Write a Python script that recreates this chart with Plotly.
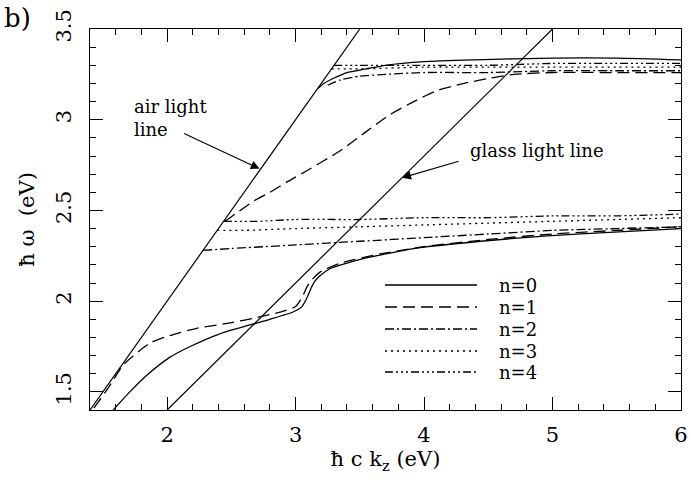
import plotly.graph_objects as go

# light lines
air_k = [1.4, 3.5]
air_w = [1.4, 3.5]
glass_k = [2.0, 5.0]
glass_w = [1.4, 3.5]

# n=0 (solid)
n0_lo_k = [1.58, 1.71, 1.84, 2.02, 2.18, 2.41, 2.65, 2.80, 2.98, 3.05, 3.09, 3.12, 3.15, 3.19, 3.27, 3.40, 3.56, 3.70, 3.92, 4.44, 4.96, 5.48, 6.0]
n0_lo_w = [1.40, 1.50, 1.59, 1.69, 1.75, 1.82, 1.87, 1.90, 1.94, 1.97, 2.02, 2.07, 2.11, 2.14, 2.18, 2.21, 2.24, 2.26, 2.29, 2.33, 2.36, 2.38, 2.40]
n0_up_k = [3.17, 3.22, 3.30, 3.40, 3.55, 3.70, 4.0, 4.4, 5.0, 5.5, 6.0]
n0_up_w = [3.17, 3.20, 3.23, 3.26, 3.28, 3.30, 3.32, 3.33, 3.34, 3.34, 3.33]

# n=1 (dashed)
n1_lo_k = [1.43, 1.55, 1.66, 1.74, 1.87, 2.02, 2.23, 2.49, 2.70, 2.88, 3.00, 3.05, 3.09, 3.13, 3.19, 3.35, 3.66, 4.0, 4.5, 5.0, 5.5, 6.0]
n1_lo_w = [1.41, 1.53, 1.65, 1.70, 1.77, 1.81, 1.85, 1.88, 1.91, 1.94, 1.97, 2.02, 2.08, 2.12, 2.16, 2.21, 2.26, 2.30, 2.34, 2.37, 2.39, 2.41]
n1_up_k = [2.45, 2.49, 2.55, 2.67, 2.80, 2.94, 3.09, 3.35, 3.56, 3.74, 3.92, 4.10, 4.31, 4.52, 4.70, 5.0, 5.5, 6.0]
n1_up_w = [2.44, 2.46, 2.49, 2.55, 2.60, 2.66, 2.72, 2.83, 2.94, 3.03, 3.10, 3.16, 3.20, 3.23, 3.25, 3.26, 3.26, 3.26]

# n=2 (dash-dot)
n2_lo_k = [2.28, 2.5, 3.0, 3.5, 4.0, 4.5, 5.0, 5.5, 6.0]
n2_lo_w = [2.28, 2.29, 2.31, 2.33, 2.35, 2.37, 2.39, 2.40, 2.41]
n2_up_k = [3.25, 3.35, 3.5, 3.7, 4.0, 4.5, 5.0, 5.5, 6.0]
n2_up_w = [3.19, 3.22, 3.24, 3.25, 3.26, 3.26, 3.27, 3.27, 3.27]

# n=3 (dotted)
n3_lo_k = [2.39, 2.6, 3.0, 3.5, 4.0, 4.5, 5.0, 5.5, 6.0]
n3_lo_w = [2.39, 2.39, 2.40, 2.41, 2.42, 2.43, 2.44, 2.45, 2.46]
n3_up_k = [3.28, 3.5, 4.0, 4.5, 5.0, 5.5, 6.0]
n3_up_w = [3.28, 3.28, 3.29, 3.29, 3.29, 3.29, 3.29]

# n=4 (dash-dot-dot-dot)
n4_lo_k = [2.44, 2.7, 3.0, 3.5, 4.0, 4.5, 5.0, 5.5, 6.0]
n4_lo_w = [2.44, 2.44, 2.45, 2.45, 2.46, 2.46, 2.47, 2.47, 2.48]
n4_up_k = [3.30, 3.5, 4.0, 4.5, 5.0, 5.5, 6.0]
n4_up_w = [3.30, 3.30, 3.30, 3.30, 3.31, 3.31, 3.31]

labels = ["n=0", "n=1", "n=2", "n=3", "n=4"]
dashes = ["solid", "12px,6px", "9px,3px,2px,3px", "2px,4px", "8px,3px,2px,3px,2px,3px,2px,3px"]

FONT = "DejaVu Serif"
black = "black"

# plot box in pixels (used only to place legend / annotations)
L, R, T, B = 90, 681, 29, 410
W, H = R - L, B - T


def px(x):
    return (x - L) / W


def py(y):
    return (B - y) / H


fig = go.Figure()

# light lines
fig.add_trace(go.Scatter(x=air_k, y=air_w, mode="lines", line=dict(color=black, width=1.2), showlegend=False))
fig.add_trace(go.Scatter(x=glass_k, y=glass_w, mode="lines", line=dict(color=black, width=1.2), showlegend=False))

branches = [
    (n0_lo_k, n0_lo_w, n0_up_k, n0_up_w),
    (n1_lo_k, n1_lo_w, n1_up_k, n1_up_w),
    (n2_lo_k, n2_lo_w, n2_up_k, n2_up_w),
    (n3_lo_k, n3_lo_w, n3_up_k, n3_up_w),
    (n4_lo_k, n4_lo_w, n4_up_k, n4_up_w),
]
for name, dash, (lk, lw, uk, uw) in zip(labels, dashes, branches):
    fig.add_trace(go.Scatter(
        x=lk + [None] + uk, y=lw + [None] + uw,
        mode="lines", name=name, showlegend=False,
        line=dict(color=black, width=1.3, dash=dash, shape="spline", smoothing=0.6),
    ))

# hand-drawn legend like the original figure
leg_y = [285, 307, 329, 351, 372]
for name, dash, yy in zip(labels, dashes, leg_y):
    fig.add_shape(type="line", xref="paper", yref="paper",
                  x0=px(385), x1=px(477), y0=py(yy), y1=py(yy),
                  line=dict(color=black, width=1.3, dash=dash))
    fig.add_annotation(text=name, xref="paper", yref="paper", x=px(497), y=py(yy),
                       xanchor="left", yanchor="middle", showarrow=False,
                       font=dict(family=FONT, size=18, color=black))

axis_common = dict(
    showline=True, linecolor=black, linewidth=1.3, mirror="allticks",
    ticks="inside", ticklen=13, tickcolor=black, tickwidth=1.2,
    showgrid=False, zeroline=False, automargin=False,
    tickfont=dict(family=FONT, size=21, color=black),
)

fig.update_xaxes(
    range=[1.4, 6.0], dtick=1, tick0=0, ticklabelstandoff=6,
    minor=dict(ticks="inside", ticklen=6, dtick=0.2, tickcolor=black, tickwidth=1.1),
    title=dict(text="ħ c k<sub>z</sub> (eV)", font=dict(family=FONT, size=21, color=black), standoff=4),
    **axis_common,
)
fig.update_yaxes(
    range=[1.4, 3.5], dtick=0.5, tick0=0, tickangle=-90, ticklabelstandoff=9,
    minor=dict(ticks="inside", ticklen=6, dtick=0.1, tickcolor=black, tickwidth=1.1),
    title=dict(text="ħ ω  (eV)", font=dict(family=FONT, size=21, color=black), standoff=12),
    **axis_common,
)

# arrows
fig.add_annotation(x=2.72, y=2.73, xref="x", yref="y", ax=-77, ay=-36,
                   showarrow=True, arrowhead=2, arrowsize=1.6, arrowwidth=1.1,
                   arrowcolor=black, standoff=0, text="")
fig.add_annotation(x=3.83, y=2.68, xref="x", yref="y", ax=58, ay=-17,
                   showarrow=True, arrowhead=2, arrowsize=1.6, arrowwidth=1.1,
                   arrowcolor=black, standoff=0, text="")

fig.add_annotation(text="air light<br>line", xref="paper", yref="paper",
                   x=px(132), y=py(94), xanchor="left", yanchor="top",
                   align="left", showarrow=False,
                   font=dict(family=FONT, size=18, color=black))
fig.add_annotation(text="glass light line", xref="paper", yref="paper",
                   x=px(468), y=py(150), xanchor="left", yanchor="middle",
                   align="left", showarrow=False,
                   font=dict(family=FONT, size=18, color=black))
fig.add_annotation(text="b)", xref="paper", yref="paper",
                   x=px(2), y=py(1), xanchor="left", yanchor="top",
                   showarrow=False, font=dict(family=FONT, size=26, color=black))

fig.update_layout(
    width=691, height=485,
    margin=dict(l=L, r=691 - R, t=T, b=485 - B),
    paper_bgcolor="white", plot_bgcolor="white",
    font=dict(family=FONT, color=black),
    showlegend=False,
)

# the page body has a default 8px margin; drop it so the figure fills the window
fig.write_html("out.html", config={"displayModeBar": False},
               post_script="document.body.style.margin='0';")
